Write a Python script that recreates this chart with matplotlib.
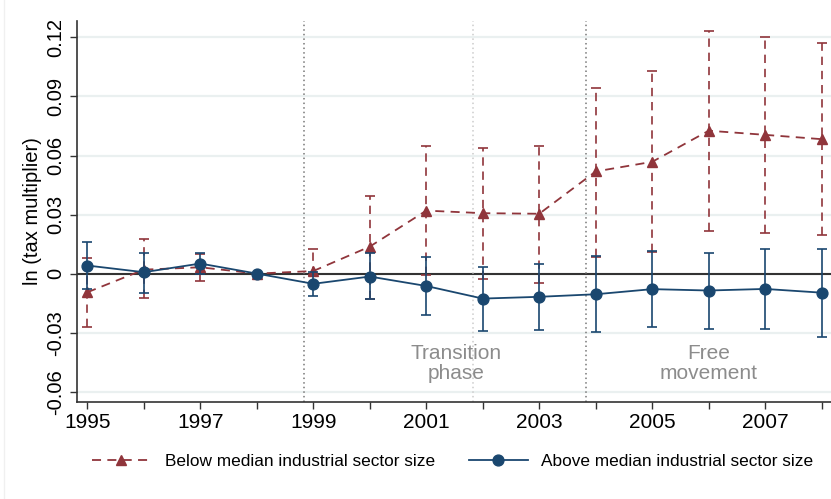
import numpy as np
import matplotlib.pyplot as plt
from matplotlib.lines import Line2D

plt.rcParams['font.family'] = ['Liberation Sans', 'DejaVu Sans']

years = np.arange(1995, 2009)

# below median industrial sector size: estimate and 95% CI
below = [-0.0095, 0.0020, 0.0032, 0.0, 0.0013, 0.0137, 0.0320, 0.0307,
         0.0304, 0.0519, 0.0568, 0.0726, 0.0705, 0.0683]
below_lo = [-0.0269, -0.0122, -0.0036, 0.0, -0.0007, -0.0129, -0.0007, -0.0025,
            -0.0046, 0.0086, 0.0112, 0.0214, 0.0205, 0.0197]
below_hi = [0.0080, 0.0176, 0.0100, 0.0, 0.0124, 0.0392, 0.0646, 0.0638,
            0.0650, 0.0943, 0.1027, 0.1231, 0.1202, 0.1171]

# above median industrial sector size
above = [0.0041, 0.0007, 0.0051, 0.0, -0.0052, -0.0015, -0.0063, -0.0127,
         -0.0118, -0.0105, -0.0079, -0.0086, -0.0078, -0.0097]
above_lo = [-0.0079, -0.0097, -0.0003, 0.0, -0.0113, -0.0129, -0.0210, -0.0290,
            -0.0286, -0.0295, -0.0271, -0.0280, -0.0280, -0.0320]
above_hi = [0.0161, 0.0107, 0.0105, 0.0, 0.0009, 0.0104, 0.0085, 0.0036,
            0.0048, 0.0088, 0.0115, 0.0105, 0.0126, 0.0126]

yticks = [-0.06, -0.03, 0, 0.03, 0.06, 0.09, 0.12]
ytick_labels = ['-0.06', '-0.03', '0', '0.03', '0.06', '0.09', '0.12']
xtick_labels = [1995, 1997, 1999, 2001, 2003, 2005, 2007]

phase_lines = [1998.83, 2001.83, 2003.83]
phase_colors = ['#777777', '#cccccc', '#777777']

red = '#90353b'
blue = '#1a476f'

fig = plt.figure(figsize=(8.31, 4.99), dpi=100)
ax = fig.add_axes([0.0923, 0.1938, 0.9077, 0.7651])

for yt in yticks:
    ax.axhline(yt, color='#eaf0f0', lw=1.6, zorder=0)
ax.axhline(0, color='#333333', lw=1.5, zorder=1)

for xv, c in zip(phase_lines, phase_colors):
    ax.axvline(xv, color=c, lw=1.1, ls=(0, (1, 2)), zorder=1)

ax.text(2001.53, -0.0457, 'Transition\nphase', ha='center', va='center',
        color='#8c8c8c', fontsize=15, linespacing=1.05)
ax.text(2006.0, -0.0457, 'Free\nmovement', ha='center', va='center',
        color='#8c8c8c', fontsize=15, linespacing=1.05)

below = np.array(below)
above = np.array(above)
b_err = [below - np.array(below_lo), np.array(below_hi) - below]
a_err = [above - np.array(above_lo), np.array(above_hi) - above]

eb = ax.errorbar(years, below, yerr=b_err, fmt='none', ecolor=red,
                 elinewidth=1.2, capsize=3.5, capthick=1.2, zorder=2)
eb[2][0].set_linestyle((0, (5, 3.5)))
ax.plot(years, below, color=red, lw=1.3, ls=(0, (5, 3.5)), marker='^',
        markersize=7.5, zorder=3)

ax.errorbar(years, above, yerr=a_err, fmt='none', ecolor=blue,
            elinewidth=1.2, capsize=3.5, capthick=1.2, zorder=4)
ax.plot(years, above, color=blue, lw=1.3, marker='o', markersize=7.8, zorder=5)

ax.set_xlim(1994.812, 2008.165)
ax.set_ylim(-0.0654, 0.1286)
ax.set_xticks(years)
ax.set_xticklabels([str(y) if y in xtick_labels else '' for y in years], fontsize=15)
ax.set_yticks(yticks)
ax.set_yticklabels(ytick_labels, fontsize=14.5, rotation=90, va='center')
ax.tick_params(axis='both', length=5, width=1, color='#333333', pad=3)
ax.set_ylabel('ln (tax multiplier)', fontsize=14.5, labelpad=3)

for side in ['top', 'right']:
    ax.spines[side].set_visible(False)
for side in ['left', 'bottom']:
    ax.spines[side].set_color('#333333')
    ax.spines[side].set_linewidth(1.2)

handles = [
    Line2D([], [], color=red, lw=1.3, ls=(0, (5, 3.5)), marker='^', markersize=7.5),
    Line2D([], [], color=blue, lw=1.3, marker='o', markersize=7.8),
]
fig.legend(handles, ['Below median industrial sector size',
                     'Above median industrial sector size'],
           loc='center', bbox_to_anchor=(0.545, 0.076), ncol=2, frameon=False,
           fontsize=12.4, handlelength=3.4, columnspacing=2.0, handletextpad=0.8)

fig.add_artist(Line2D([0.005, 0.005], [0.0, 1.0], color='#f0f0f0', lw=1))

fig.savefig('out.png', dpi=100)
